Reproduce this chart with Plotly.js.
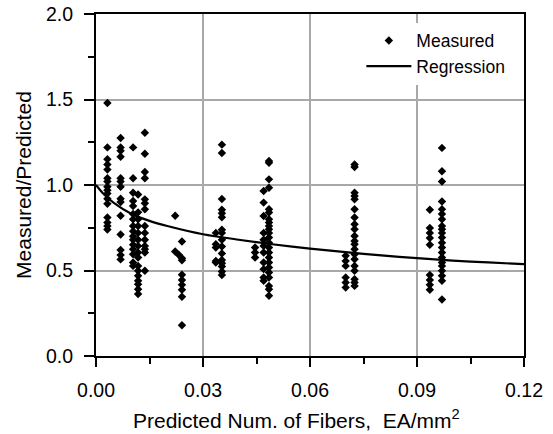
<!DOCTYPE html>
<html>
<head>
<meta charset="utf-8">
<script src="https://cdn.plot.ly/plotly-3.0.1.min.js"></script>
<style>html,body{margin:0;padding:0;background:#fff;}#chart{width:553px;height:434px;}</style>
</head>
<body>
<div id="chart"></div>
<script>
// Measured data: x position of each vertical group and the y values in that group
const groupX = [0.0032, 0.0069, 0.0104, 0.0118, 0.0137, 0.0222, 0.0232, 0.0241,
                0.0336, 0.0353, 0.0446, 0.0470, 0.0485, 0.0700, 0.0725, 0.0936, 0.0970];
const groupY = [
  [1.48, 1.22, 1.15, 1.12, 1.09, 1.04, 1.02, 0.99, 0.97, 0.95, 0.92, 0.89, 0.81, 0.78, 0.76, 0.74],
  [1.275, 1.22, 1.2, 1.165, 1.04, 1.02, 0.99, 0.92, 0.9, 0.82, 0.71, 0.62, 0.59, 0.565],
  [1.22, 1.04, 0.955, 0.907, 0.877, 0.83, 0.80, 0.76, 0.73, 0.70, 0.68, 0.65, 0.625, 0.595, 0.547, 0.527],
  [0.945, 0.84, 0.80, 0.76, 0.72, 0.68, 0.644, 0.605, 0.576, 0.527, 0.498, 0.469, 0.44, 0.42, 0.39, 0.362],
  [1.305, 1.183, 1.076, 1.04, 0.916, 0.893, 0.858, 0.76, 0.72, 0.68, 0.644, 0.625, 0.605, 0.498],
  [0.82, 0.611],
  [0.592],
  [0.67, 0.572, 0.56, 0.475, 0.445, 0.416, 0.387, 0.347, 0.18],
  [0.72, 0.654, 0.634, 0.556, 0.547],
  [1.236, 1.187, 0.918, 0.855, 0.835, 0.812, 0.738, 0.72, 0.68, 0.64, 0.60, 0.562, 0.543, 0.523, 0.494, 0.474],
  [0.634, 0.605, 0.576],
  [0.965, 0.897, 0.819, 0.72, 0.68, 0.644, 0.605, 0.547, 0.508, 0.459, 0.44],
  [1.14, 1.13, 1.033, 0.984, 0.858, 0.839, 0.8, 0.78, 0.76, 0.741, 0.72, 0.693, 0.663, 0.634, 0.605, 0.576, 0.547, 0.517, 0.488, 0.459, 0.41, 0.39, 0.352],
  [0.586, 0.556, 0.527, 0.459, 0.43, 0.40],
  [1.12, 1.105, 0.955, 0.936, 0.916, 0.858, 0.81, 0.77, 0.741, 0.702, 0.673, 0.654, 0.625, 0.595, 0.566, 0.527, 0.498, 0.449, 0.43, 0.41],
  [0.855, 0.748, 0.72, 0.69, 0.65, 0.474, 0.445, 0.416, 0.387],
  [1.217, 1.08, 1.021, 0.904, 0.858, 0.83, 0.8, 0.76, 0.741, 0.72, 0.693, 0.663, 0.634, 0.605, 0.576, 0.547, 0.527, 0.498, 0.469, 0.44, 0.33]
];

// Regression curve
const regX = [0, 0.002, 0.005, 0.01, 0.015, 0.02, 0.03, 0.04, 0.05, 0.06, 0.07, 0.08, 0.09, 0.10, 0.11, 0.12];
const regY = [1.0, 0.95, 0.895, 0.83, 0.79, 0.76, 0.712, 0.68, 0.652, 0.628, 0.607, 0.588, 0.572, 0.558, 0.547, 0.537];

const xTickVals = [0, 0.03, 0.06, 0.09, 0.12];
const xTickText = ['0.00', '0.03', '0.06', '0.09', '0.12'];
const yTickVals = [0, 0.5, 1.0, 1.5, 2.0];
const yTickText = ['0.0', '0.5', '1.0', '1.5', '2.0'];
const xTitle = 'Predicted Num. of Fibers,\u00A0 EA/mm<sup>2</sup>';
const yTitle = 'Measured/Predicted';

const measX = [], measY = [];
groupX.forEach((gx, i) => groupY[i].forEach(v => { measX.push(gx); measY.push(v); }));

const FONT = 'Liberation Sans, Arial, sans-serif';

const traces = [
  {
    x: measX, y: measY, type: 'scatter', mode: 'markers', name: 'Measured',
    legendgroup: 'a',
    marker: {symbol: 'diamond', size: 6.5, color: '#000', line: {width: 0}},
    cliponaxis: false
  },
  {
    x: regX, y: regY, type: 'scatter', mode: 'lines', name: 'Regression',
    legendgroup: 'b',
    line: {color: '#000', width: 2.2, shape: 'spline', smoothing: 0.8}
  }
];

const layout = {
  width: 553, height: 434,
  margin: {l: 96, r: 29, t: 14, b: 78, pad: 0},
  paper_bgcolor: '#fff', plot_bgcolor: '#fff',
  font: {family: FONT, color: '#000', size: 19},
  showlegend: true,
  legend: {
    x: 0.62, xanchor: 'left', y: 0.975, yanchor: 'top',
    bgcolor: '#fff', borderwidth: 0,
    font: {family: FONT, size: 17.5, color: '#000'},
    itemwidth: 45, tracegroupgap: 0
  },
  xaxis: {
    range: [0, 0.12], tickvals: xTickVals, ticktext: xTickText,
    ticks: 'outside', ticklen: 9, tickwidth: 2, tickcolor: '#000',
    showline: true, linecolor: '#000', linewidth: 2, mirror: true,
    showgrid: true, gridcolor: '#a8a8a8', gridwidth: 2,
    zeroline: false,
    minor: {dtick: 0.015, tick0: 0, ticks: 'outside', ticklen: 6, tickwidth: 2, tickcolor: '#000', showgrid: false},
    tickfont: {family: FONT, size: 19.5, color: '#000'},
    ticklabelstandoff: 7
  },
  yaxis: {
    range: [0, 2.0], tickvals: yTickVals, ticktext: yTickText,
    ticks: 'outside', ticklen: 10, tickwidth: 2, tickcolor: '#000',
    showline: true, linecolor: '#000', linewidth: 2, mirror: true,
    showgrid: true, gridcolor: '#a8a8a8', gridwidth: 2,
    zeroline: false,
    minor: {dtick: 0.25, tick0: 0, ticks: 'outside', ticklen: 6, tickwidth: 2, tickcolor: '#000', showgrid: false},
    tickfont: {family: FONT, size: 19.5, color: '#000'},
    ticklabelstandoff: 7,
    title: {text: yTitle, font: {family: FONT, size: 21, color: '#000'}, standoff: 9}
  },
  annotations: [
    {text: xTitle, xref: 'paper', yref: 'paper', x: 0.469, y: -0.183, xanchor: 'center', yanchor: 'middle',
     showarrow: false, font: {family: FONT, size: 21, color: '#000'}}
  ],
  shapes: [
    {type: 'line', xref: 'x', yref: 'paper', x0: 0.09, x1: 0.09, y0: 0, y1: 1, layer: 'below', line: {color: '#000', width: 1}}
  ]
};

Plotly.newPlot('chart', traces, layout, {displayModeBar: false, staticPlot: true});
</script>
</body>
</html>
